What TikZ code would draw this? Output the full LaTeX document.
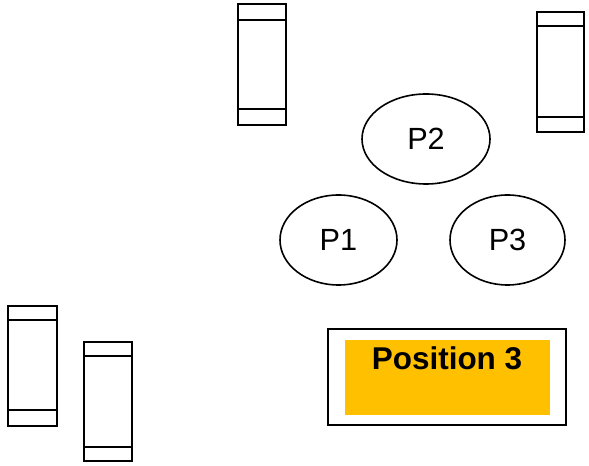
\documentclass[tikz,border=0pt]{standalone}
\usepackage{fontspec}
\setmainfont{Liberation Sans}
\usetikzlibrary{shapes.geometric}
\newcommand\mycab[7]{%
  \node[cab, minimum width={(#4-#2)*0.75pt}, minimum height={(#5-#3)*0.75pt}] (#1) at ({(#2+#4)/2},{(#3+#5)/2}) {};
  \draw[cabline] (#2,#6) -- (#4,#6);
  \draw[cabline] (#2,#7) -- (#4,#7);
}
\begin{document}
\begin{tikzpicture}[x=0.75pt,y=-0.75pt,
  cab/.style={draw, line width=1.6pt*0.75, inner sep=0pt, rectangle},
  cabline/.style={line width=1.5pt*0.75},
  pell/.style={draw, ellipse, line width=1.6pt*0.75, inner sep=0pt, font=\fontsize{23}{26}\selectfont},
]
\useasboundingbox (0,0) rectangle (589,466);
\mycab{c1}{238}{4}{286}{125}{20}{109}
\mycab{c2}{537}{12}{584}{132}{26}{117}
\mycab{c3}{8}{306}{57}{426}{320}{410}
\mycab{c4}{84}{342}{132}{461}{356}{447}
\node[pell, minimum width=96pt, minimum height=67.5pt] (p2) at (426,139) {P2};
\node[pell, minimum width=87.75pt, minimum height=67.5pt] (p1) at (338.5,240) {P1};
\node[pell, minimum width=86.25pt, minimum height=67.5pt] (p3) at (507.5,240) {P3};
\node[draw, line width=1.6pt*0.75, inner sep=0pt, minimum width=178.5pt, minimum height=72pt] (pos) at (447,377) {};
\node[fill={rgb,255:red,255;green,192;blue,0}, inner sep=0pt, minimum width=153.75pt, minimum height=56.25pt] (posin) at (447.5,377.5) {};
\node[font=\fontsize{23.6}{27}\selectfont\bfseries, anchor=base] (postext) at (447,370) {Position 3};
\end{tikzpicture}
\end{document}
